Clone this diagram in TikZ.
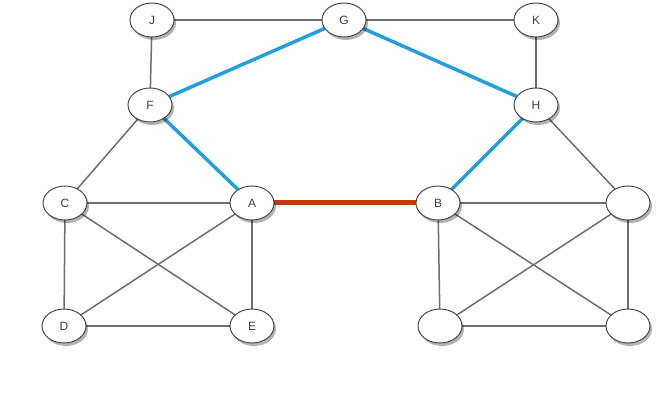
\documentclass[tikz,border=0pt]{standalone}
\usepackage{fontspec}
\setmainfont{Liberation Sans}
\usetikzlibrary{shapes.geometric,shadows,backgrounds}
\definecolor{edgegrey}{RGB}{110,110,110}
\definecolor{hiblue}{RGB}{35,160,220}
\definecolor{hired}{RGB}{200,55,20}
\begin{document}
\begin{tikzpicture}[x=1pt,y=-1pt,
  vtx/.style={ellipse,draw=black!70,line width=1pt,fill=white,minimum width=44pt,minimum height=34pt,inner sep=0pt,
    font=\fontsize{12}{13}\selectfont,text=black!75,
    drop shadow={shadow xshift=2pt,shadow yshift=-3pt,opacity=0.3,fill=black}},
  ed/.style={draw=edgegrey,line width=1.5pt},
  bl/.style={draw=hiblue,line width=3.5pt},
  rd/.style={draw=hired,line width=5pt}]
\useasboundingbox (0,0) rectangle (672,414);
% nodes
\node[vtx] (J) at (152,20) {J};
\node[vtx] (G) at (344,20) {G};
\node[vtx] (K) at (536,20) {K};
\node[vtx] (F) at (150,105) {F};
\node[vtx] (H) at (536,105) {H};
\node[vtx] (C) at (65,203) {C};
\node[vtx] (A) at (252,203) {A};
\node[vtx] (B) at (438,203) {B};
\node[vtx] (R) at (628,203) {};
\node[vtx] (D) at (64,326) {D};
\node[vtx] (E) at (252,326) {E};
\node[vtx] (L) at (440,326) {};
\node[vtx] (M) at (628,326) {};
\begin{scope}[on background layer]
\fill[white] (0,0) rectangle (672,414);
\draw[ed] (J.center) -- (G.center);
\draw[ed] (G.center) -- (K.center);
\draw[ed] (J.center) -- (F.center);
\draw[ed] (K.center) -- (H.center);
\draw[ed] (F.center) -- (C.center);
\draw[ed] (H.center) -- (R.center);
\draw[ed] (C.center) -- (A.center);
\draw[ed] (C.center) -- (D.center);
\draw[ed] (C.center) -- (E.center);
\draw[ed] (A.center) -- (D.center);
\draw[ed] (A.center) -- (E.center);
\draw[ed] (D.center) -- (E.center);
\draw[ed] (B.center) -- (R.center);
\draw[ed] (B.center) -- (L.center);
\draw[ed] (B.center) -- (M.center);
\draw[ed] (R.center) -- (L.center);
\draw[ed] (R.center) -- (M.center);
\draw[ed] (L.center) -- (M.center);
\draw[bl] (F.center) -- (G.center);
\draw[bl] (G.center) -- (H.center);
\draw[bl] (F.center) -- (A.center);
\draw[bl] (H.center) -- (B.center);
\draw[rd] (A.center) -- (B.center);
\end{scope}
\end{tikzpicture}
\end{document}
